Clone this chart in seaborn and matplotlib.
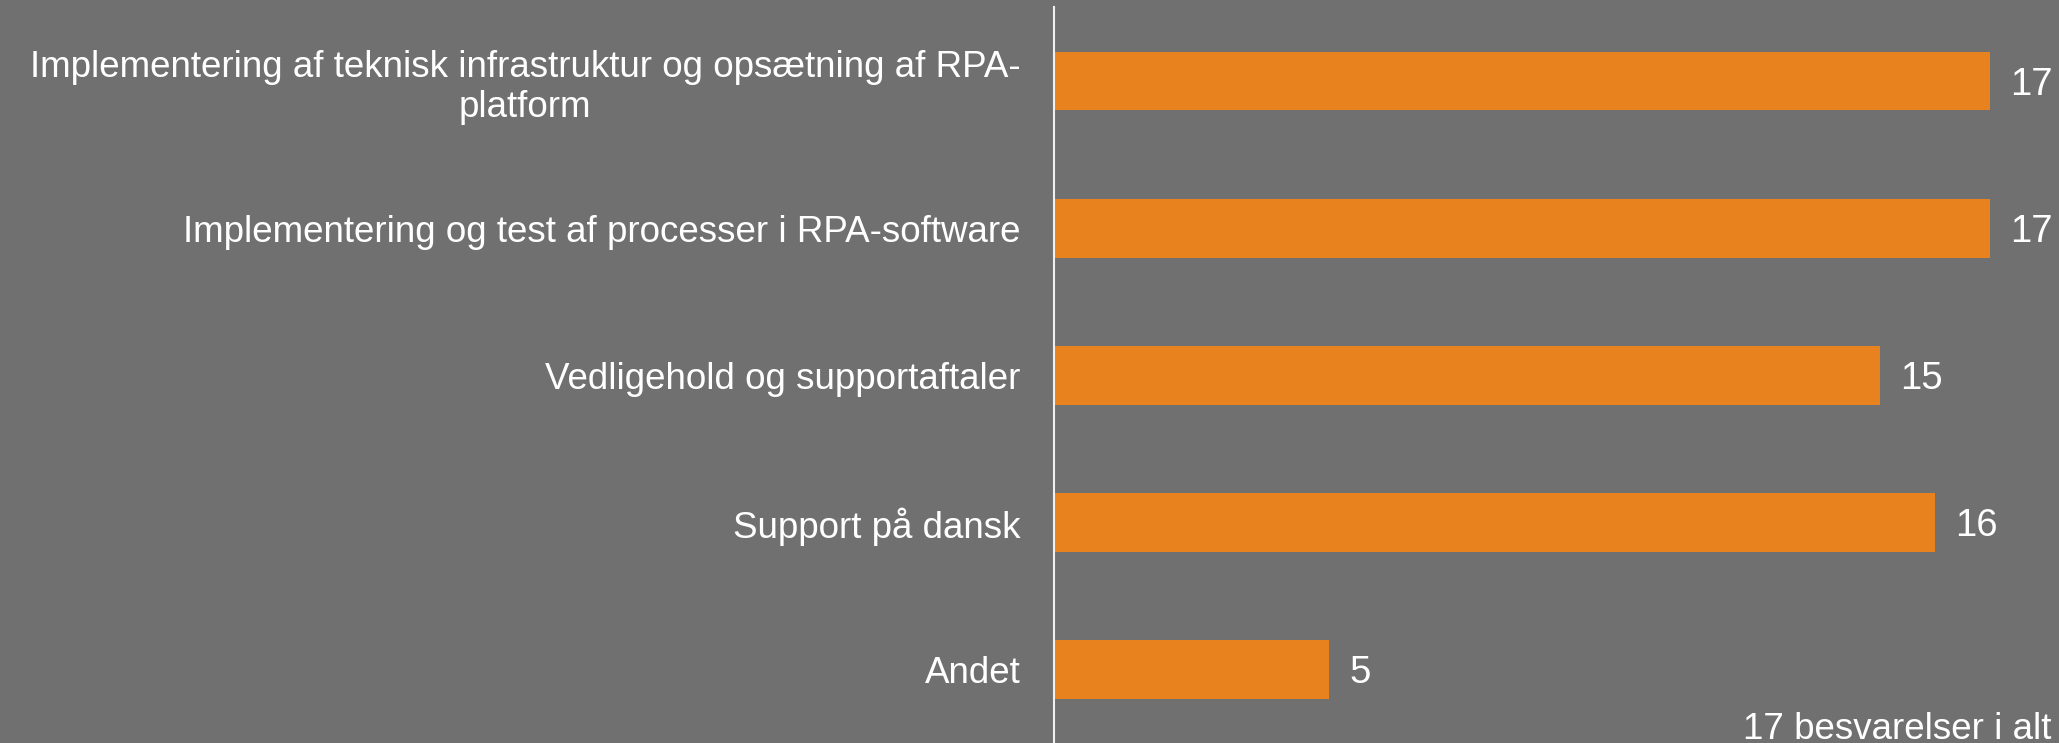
import matplotlib
matplotlib.use("Agg")
import matplotlib.pyplot as plt
import seaborn as sns
import pandas as pd

categories = [
    "Implementering af teknisk infrastruktur og opsætning af RPA-\nplatform",
    "Implementering og test af processer i RPA-software",
    "Vedligehold og supportaftaler",
    "Support på dansk",
    "Andet",
]
values = [17, 17, 15, 16, 5]
footnote = "17 besvarelser i alt"

BG = "#707070"
BAR = "#E8821E"
FS = 26.5

sns.set_theme(style="white")
plt.rcParams["font.family"] = ["Liberation Sans", "DejaVu Sans"]

df = pd.DataFrame({"cat": categories, "val": values})

fig = plt.figure(figsize=(20.59, 7.43), dpi=100, facecolor=BG)
ax = fig.add_axes([1054 / 2059, 0.0, 1 - 1054 / 2059, (743 - 7.5) / 743])
ax.set_facecolor(BG)

sns.barplot(data=df, x="val", y="cat", orient="h", color=BAR, width=0.4,
            saturation=1, linewidth=0, edgecolor="none", ax=ax)

ax.set_xlim(0, 18.25)
ax.set_ylim(4.5, -0.5)
ax.set_xlabel("")
ax.set_ylabel("")
ax.set_xticks([])
for s in ["top", "right", "bottom"]:
    ax.spines[s].set_visible(False)
ax.spines["left"].set_color("#f0f0f0")
ax.spines["left"].set_linewidth(1.5)

ax.tick_params(axis="y", length=0, pad=24, labelsize=FS, labelcolor="white")
for lab in ax.get_yticklabels():
    lab.set_multialignment("center")

for i, v in enumerate(values):
    ax.text(v + 0.36, i, str(v), va="center_baseline", ha="left",
            fontsize=FS + 1, color="white")

fig.text(2051 / 2059, 4 / 743, footnote, ha="right", va="baseline",
         fontsize=FS, color="white")

fig.savefig("out.png", dpi=100, facecolor=BG)
